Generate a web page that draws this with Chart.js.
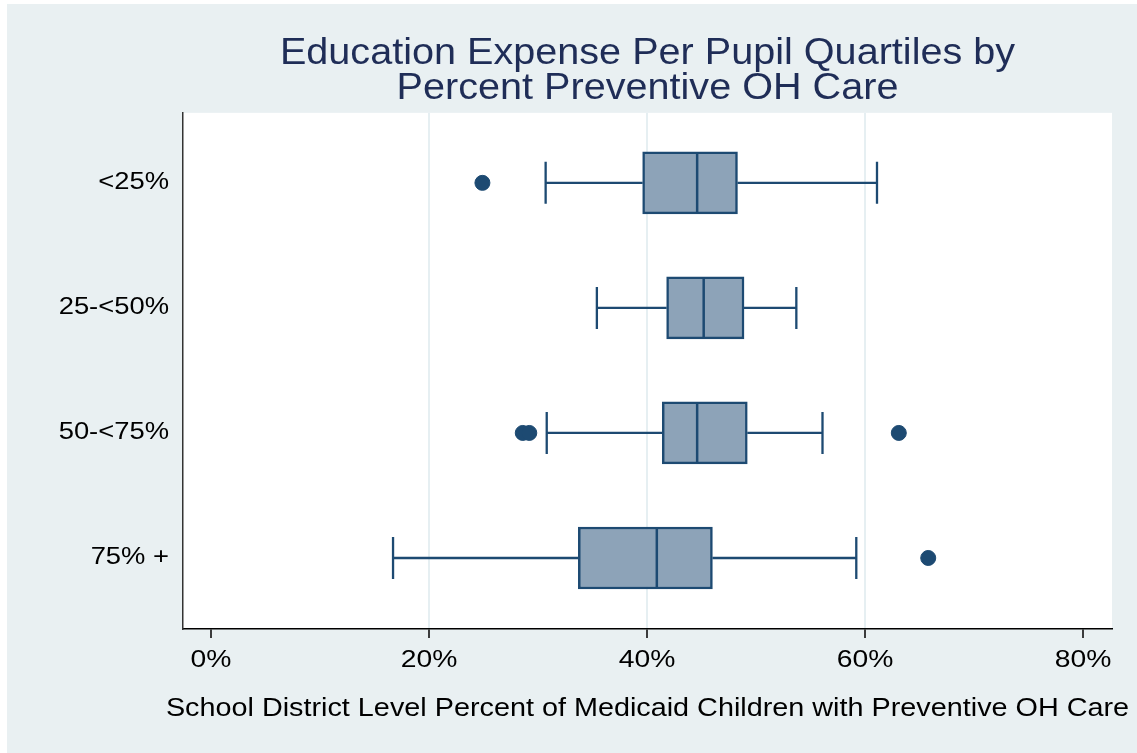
<!DOCTYPE html>
<html>
<head>
<meta charset="utf-8">
<script src="https://cdn.jsdelivr.net/npm/chart.js@4.4.1/dist/chart.umd.min.js"></script>
<style>
  html, body { margin: 0; padding: 0; background: #ffffff; }
  #wrap { position: absolute; left: 7px; top: 4px; width: 1130px; height: 749px; background: #e9f0f2; }
  canvas { display: block; }
</style>
</head>
<body>
<div id="wrap"><canvas id="c" width="1130" height="749"></canvas></div>
<script>
// ---- data ----
const categories = ['<25%', '25-<50%', '50-<75%', '75% +'];
const whiskerLow  = [30.7, 35.4, 30.8, 16.7];
const q1          = [39.6, 41.8, 41.4, 33.7];
const median      = [44.6, 45.2, 44.6, 40.9];
const q3          = [48.3, 48.9, 49.2, 46.0];
const whiskerHigh = [61.1, 53.7, 56.1, 59.2];
const outlierCat  = [0, 2, 2, 2, 3];
const outlierVal  = [24.9, 28.6, 29.2, 63.1, 65.8];
const xTicks = [0, 20, 40, 60, 80];
const gridAt = [20, 40, 60];

const navy = '#1d4a72';
const boxFill = '#8da3b8';
const FONT = 'Liberation Sans, Arial, sans-serif';

const boxData = categories.map((c, i) => ({ x: [q1[i], q3[i]], y: i }));
const outData = outlierVal.map((v, k) => ({ x: v, y: outlierCat[k] }));

// Horizontal glyph stretch (the reference's text is rendered wider than Arial)
const canvas = document.getElementById('c');
const ctx2d = canvas.getContext('2d');
const stretchBySize = { 36: 1.10, 24.8: 1.14, 23: 1.19, 25.2: 1.143 };
function stretchFor(font) {
  const m = /([\d.]+)px/.exec(font || '');
  if (!m) return 1;
  return stretchBySize[parseFloat(m[1])] || 1;
}
const origFill = ctx2d.fillText.bind(ctx2d);
const origMeasure = ctx2d.measureText.bind(ctx2d);
ctx2d.fillText = function (t, x, y) {
  const sx = stretchFor(this.font);
  this.save();
  this.translate(x, y);
  this.scale(sx, 1);
  origFill(t, 0, 0);
  this.restore();
};
ctx2d.measureText = function (t) {
  const sx = stretchFor(this.font);
  const m = origMeasure(t);
  return {
    width: m.width * sx,
    actualBoundingBoxAscent: m.actualBoundingBoxAscent,
    actualBoundingBoxDescent: m.actualBoundingBoxDescent,
    actualBoundingBoxLeft: m.actualBoundingBoxLeft * sx,
    actualBoundingBoxRight: m.actualBoundingBoxRight * sx,
    fontBoundingBoxAscent: m.fontBoundingBoxAscent,
    fontBoundingBoxDescent: m.fontBoundingBoxDescent
  };
};

const whiskerPlugin = {
  id: 'whiskers',
  beforeDatasetsDraw(chart) {
    const xs = chart.scales.x, ys = chart.scales.y, ctx = chart.ctx;
    ctx.save();
    ctx.strokeStyle = navy;
    ctx.lineWidth = 2.3;
    categories.forEach((c, i) => {
      const y = ys.getPixelForValue(i);
      const capHalf = 21;
      const lo = xs.getPixelForValue(whiskerLow[i]);
      const a = xs.getPixelForValue(q1[i]);
      const b = xs.getPixelForValue(q3[i]);
      const hi = xs.getPixelForValue(whiskerHigh[i]);
      ctx.beginPath();
      ctx.moveTo(lo, y); ctx.lineTo(a, y);
      ctx.moveTo(b, y); ctx.lineTo(hi, y);
      ctx.moveTo(lo, y - capHalf); ctx.lineTo(lo, y + capHalf);
      ctx.moveTo(hi, y - capHalf); ctx.lineTo(hi, y + capHalf);
      ctx.stroke();
    });
    ctx.restore();
  },
  afterDatasetsDraw(chart) {
    const xs = chart.scales.x, ys = chart.scales.y, ctx = chart.ctx;
    ctx.save();
    ctx.strokeStyle = navy;
    ctx.lineWidth = 2.5;
    categories.forEach((c, i) => {
      const y = ys.getPixelForValue(i);
      const m = xs.getPixelForValue(median[i]);
      ctx.beginPath();
      ctx.moveTo(m, y - 30); ctx.lineTo(m, y + 30);
      ctx.stroke();
    });
    ctx.restore();
  }
};

const plotBg = {
  id: 'plotBg',
  beforeDraw(chart) {
    const a = chart.chartArea, ctx = chart.ctx;
    ctx.save();
    ctx.fillStyle = '#ffffff';
    ctx.fillRect(a.left, a.top, a.right - a.left, a.bottom - a.top);
    ctx.restore();
  }
};

new Chart(canvas, {
  type: 'bar',
  data: {
    datasets: [
      {
        type: 'bar',
        data: boxData,
        backgroundColor: boxFill,
        borderColor: navy,
        borderWidth: 2.5,
        borderSkipped: false,
        barThickness: 62,
        order: 2
      },
      {
        type: 'scatter',
        data: outData,
        backgroundColor: navy,
        borderColor: navy,
        pointRadius: 7.5,
        pointHoverRadius: 7.5,
        order: 1
      }
    ]
  },
  options: {
    indexAxis: 'y',
    responsive: false,
    animation: false,
    layout: { padding: { left: 0, right: 25, top: 0, bottom: 0 } },
    plugins: {
      legend: { display: false },
      tooltip: { enabled: false },
      title: {
        display: true,
        fullSize: false,
        text: ['Education Expense Per Pupil Quartiles by', 'Percent Preventive OH Care'],
        color: '#1f2d57',
        font: { family: FONT, size: 36, weight: 'normal', lineHeight: 0.97 },
        padding: { top: 33, bottom: 6 }
      }
    },
    scales: {
      x: {
        type: 'linear',
        min: -2.57,
        max: 82.66,
        afterBuildTicks(scale) { scale.ticks = xTicks.map(v => ({ value: v })); },
        afterFit(scale) { scale.height = 124; },
        ticks: {
          callback: v => v + '%',
          color: '#000000',
          font: { family: FONT, size: 24.8 },
          padding: 7,
          maxRotation: 0
        },
        grid: {
          color: ctx => (ctx.tick && gridAt.includes(ctx.tick.value)) ? '#e6eff2' : 'rgba(0,0,0,0)',
          lineWidth: 2,
          tickColor: '#000000',
          tickLength: 9,
          tickWidth: 1.5
        },
        border: { display: true, color: '#000000', width: 1.5 },
        title: {
          display: true,
          text: 'School District Level Percent of Medicaid Children with Preventive OH Care',
          color: '#000000',
          font: { family: FONT, size: 25.2 },
          padding: { top: 0, bottom: 29 }
        }
      },
      y: {
        type: 'linear',
        reverse: true,
        offset: false,
        min: -0.56,
        max: 3.568,
        afterBuildTicks(scale) { scale.ticks = categories.map((c, i) => ({ value: i })); },
        afterFit(scale) { scale.width = 176; },
        ticks: {
          callback: v => categories[v],
          color: '#000000',
          font: { family: FONT, size: 23 },
          padding: 14
        },
        grid: { display: false, drawTicks: false, offset: false },
        border: { display: true, color: '#333333', width: 1.5 }
      }
    }
  },
  plugins: [plotBg, whiskerPlugin]
});
</script>
</body>
</html>
